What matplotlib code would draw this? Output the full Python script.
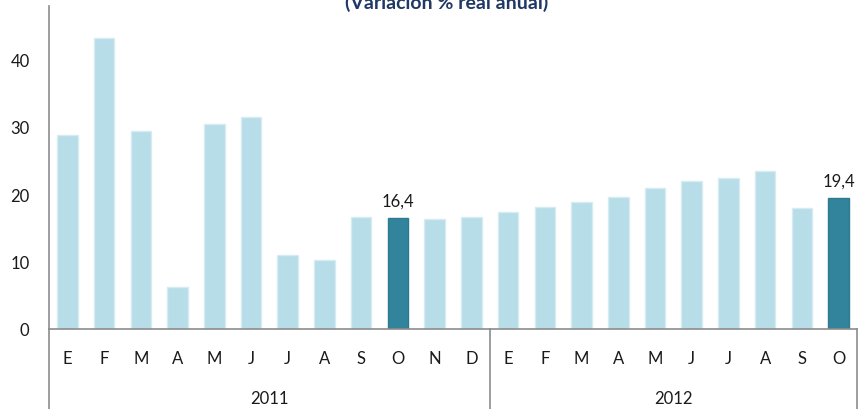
import matplotlib.pyplot as plt
import matplotlib.transforms as mtransforms
import numpy as np

plt.rcParams['font.family'] = ['Lato', 'DejaVu Sans']

months = ["E", "F", "M", "A", "M", "J", "J", "A", "S", "O", "N", "D",
          "E", "F", "M", "A", "M", "J", "J", "A", "S", "O"]
years = ["2011", "2012"]
year_sizes = [12, 10]
values = [28.8, 43.1, 29.3, 6.3, 30.4, 31.4, 10.9, 10.3, 16.6, 16.4, 16.3, 16.6,
          17.3, 18.1, 18.8, 19.6, 20.9, 21.9, 22.4, 23.5, 18.0, 19.4]
highlight = [9, 21]  # bars with data label
title = "(Variación % real anual)"

light = "#B7DDE8"
dark = "#31849B"
axis_col = "#8C8C8C"

fig = plt.figure(figsize=(8.6, 4.1), dpi=100)
W, H = 860, 410
ax = fig.add_axes([49 / W, 1 - 330 / H, (857 - 49) / W, (330 - 7) / H])

x = np.arange(len(values))
colors = [dark if i in highlight else light for i in x]
edges = ["#2B7A8F" if i in highlight else "#D6ECF2" for i in x]
ax.bar(x, values, width=0.56, color=colors, edgecolor=edges, linewidth=1, zorder=2)

for i in highlight:
    ax.annotate(f"{values[i]:.1f}".replace(".", ","), (x[i], values[i]),
                xytext=(0, 7), textcoords="offset points", ha="center", va="bottom",
                fontsize=12, color="#1a1a1a")

ax.set_xlim(-0.5, len(values) - 0.5)
ax.set_ylim(0, 47.9)
ax.set_yticks([0, 10, 20, 30, 40])
ax.tick_params(axis="y", length=0, labelsize=12, pad=14, colors="#1a1a1a")
ax.set_xticks(x)
ax.set_xticklabels(months)
ax.tick_params(axis="x", length=0, labelsize=12, pad=15, colors="#1a1a1a")

for s in ["top", "right"]:
    ax.spines[s].set_visible(False)
for s in ["left", "bottom"]:
    ax.spines[s].set_color(axis_col)
    ax.spines[s].set_linewidth(1.2)

# category group separators below the axis
trans = mtransforms.blended_transform_factory(ax.transData, ax.transAxes)
ybot = -(H - 330) / (330 - 7)
bounds = np.concatenate([[0], np.cumsum(year_sizes)]) - 0.5
for b in bounds:
    ax.plot([b, b], [0, ybot], color=axis_col, lw=1.2, transform=trans, clip_on=False)
for k, yr in enumerate(years):
    mid = (bounds[k] + bounds[k + 1]) / 2
    ax.text(mid, -69 / 323, yr, transform=trans, ha="center", va="center",
            fontsize=12, color="#1a1a1a")

fig.text(447 / W, 1 - 9 / H, title, ha="center", va="baseline", fontsize=14,
         fontweight="bold", color="#1F3864")

fig.savefig("out.png", dpi=100)
